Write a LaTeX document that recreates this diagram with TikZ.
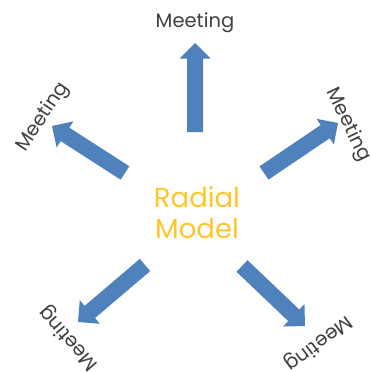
\documentclass[tikz,border=0pt]{standalone}
\usepackage{fontspec}
\setmainfont{Poppins}
\usetikzlibrary{calc}
\definecolor{arrowblue}{HTML}{4F81BD}
\definecolor{titlegold}{HTML}{FFC62A}
\definecolor{labelgray}{HTML}{404040}
\tikzset{
  blockfill/.style={fill=arrowblue, draw=none},
  meetlabel/.style={text=labelgray, font=\fontsize{19.5}{21}\selectfont, inner sep=0pt, anchor=center},
  titletext/.style={text=titlegold, font=\fontsize{27.5}{31}\selectfont, align=center, inner sep=0pt, anchor=center}
}
\newcommand\blockarrow[2]{%
  \coordinate (#2b) at ($(#2)!15.5pt!(#1)$);
  \fill[blockfill] ($(#1)!8pt!90:(#2)$) -- ($(#2b)!8pt!-90:(#1)$) -- ($(#2b)!15.5pt!-90:(#1)$) -- (#2)
    -- ($(#2b)!15.5pt!90:(#1)$) -- ($(#2b)!8pt!90:(#1)$) -- ($(#1)!8pt!-90:(#2)$) -- cycle;
}
\begin{document}
\begin{tikzpicture}[x=1pt,y=-1pt]
\useasboundingbox[fill=white] (0,0) rectangle (372,372);
% arrow tails and tips
\coordinate (t1) at (195,132); \coordinate (h1) at (195,43);
\coordinate (t2) at (125,173); \coordinate (h2) at (52,126);
\coordinate (t3) at (264,173); \coordinate (h3) at (338,123);
\coordinate (t4) at (145,265); \coordinate (h4) at (78,322);
\coordinate (t5) at (242,266); \coordinate (h5) at (305,326);
\blockarrow{t1}{h1}
\blockarrow{t2}{h2}
\blockarrow{t3}{h3}
\blockarrow{t4}{h4}
\blockarrow{t5}{h5}
% centre text
\node[titletext] (center) at (197,213) {Radial\\Model};
% labels
\node[meetlabel] (m1) at (195,23) {Meeting};
\node[meetlabel, rotate=56] (m2) at (43,117) {Meeting};
\node[meetlabel, rotate=-64] (m3) at (348,125) {Meeting};
\node[meetlabel, rotate=131] (m4) at (69,338) {Meeting};
\node[meetlabel, rotate=217] (m5) at (318,343) {Meeting};
\end{tikzpicture}
\end{document}
